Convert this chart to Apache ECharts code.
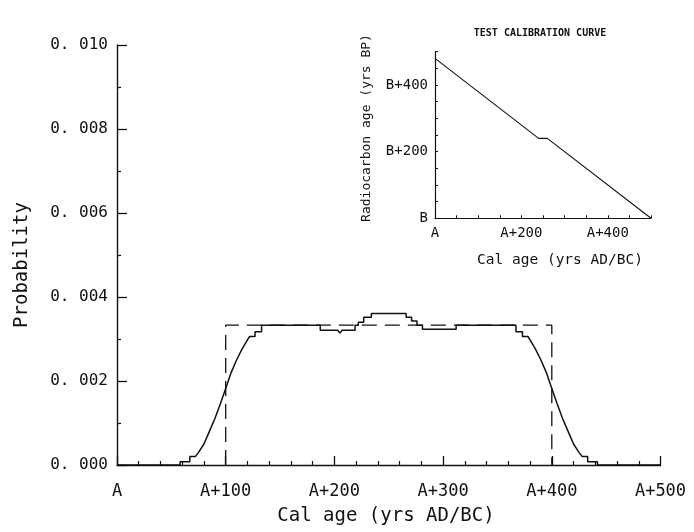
<!DOCTYPE html>
<html>
<head>
<meta charset="utf-8">
<script src="https://cdn.jsdelivr.net/npm/echarts@6/dist/echarts.min.js"></script>
<style>html,body{margin:0;padding:0;background:#fff;}#c{width:694px;height:532px;}</style>
</head>
<body>
<div id="c"></div>
<script>
// ---- Data ----
// Main panel: calibrated probability distribution, x = years after A (vertices of the drawn curve)
const probYears = [0, 58, 58, 67, 67, 72, 75, 80, 85, 90, 95, 100, 105, 110, 115, 120, 122, 127, 127, 133, 133,
  187, 187, 203, 205, 207, 219, 219, 222, 222, 227, 227, 234, 234,
  266, 266, 271, 271, 276, 276, 281, 281, 312, 312,
  367, 367, 373, 373, 378, 380, 385, 390, 395, 400, 405, 410, 415, 420, 425, 428, 433, 433, 442, 442, 500];
const probValues = [0, 0, 0.00008, 0.00008, 0.0002, 0.0002, 0.0003, 0.0005, 0.0008, 0.0011, 0.00145, 0.00182, 0.0022, 0.0025, 0.00276, 0.00298, 0.00306, 0.00306, 0.00317, 0.00317, 0.00333,
  0.00333, 0.00321, 0.00321, 0.00314, 0.00321, 0.00321, 0.00333, 0.00333, 0.0034, 0.0034, 0.00352, 0.00352, 0.00361,
  0.00361, 0.00352, 0.00352, 0.00343, 0.00343, 0.00333, 0.00333, 0.00323, 0.00323, 0.00333,
  0.00333, 0.00317, 0.00317, 0.00306, 0.00306, 0.00298, 0.00276, 0.0025, 0.0022, 0.00182, 0.00145, 0.0011, 0.0008, 0.0005, 0.0003, 0.0002, 0.0002, 0.00008, 0.00008, 0, 0];
// Uniform (dashed) input distribution
const uniformYears = [100, 100, 400, 400];
const uniformValues = [0, 0.00333, 0.00333, 0];
// Inset: test calibration curve
const calYears = [0, 240, 260, 500];
const rcAges = [480, 240, 240, 0];

// Tick labels
const mainXTickLabels = ['A', 'A+100', 'A+200', 'A+300', 'A+400', 'A+500'];
const mainYTickLabels = ['0. 000', '0. 002', '0. 004', '0. 006', '0. 008', '0. 010'];
const insetXTickLabels = {0: 'A', 200: 'A+200', 400: 'A+400'};
const insetYTickLabels = {0: 'B', 200: 'B+200', 400: 'B+400'};

const zip = (a, b) => a.map((v, i) => [v, b[i]]);
const FONT = 'DejaVu Sans Mono';
const BLACK = '#111';

const chart = echarts.init(document.getElementById('c'), null, {renderer: 'canvas'});
chart.setOption({
  animation: false,
  backgroundColor: '#fff',
  grid: [
    {left: 117, top: 45, width: 543.5, height: 420},
    {left: 435, top: 51.7, width: 216, height: 166.6}
  ],
  xAxis: [
    {
      type: 'value', gridIndex: 0, min: 0, max: 500, interval: 100,
      axisLine: {lineStyle: {color: BLACK, width: 1.4}},
      axisTick: {inside: true, length: 9, lineStyle: {color: BLACK, width: 1.3}},
      minorTick: {show: true, splitNumber: 5, length: 4, lineStyle: {color: BLACK, width: 1.2}},
      splitLine: {show: false},
      axisLabel: {margin: 18, color: BLACK, fontFamily: FONT, fontSize: 17,
        formatter: v => mainXTickLabels[Math.round(v / 100)]}
    },
    {
      type: 'value', gridIndex: 1, min: 0, max: 500, interval: 50,
      axisLine: {lineStyle: {color: BLACK, width: 1.2}},
      axisTick: {inside: true, length: 3, lineStyle: {color: BLACK, width: 1}},
      splitLine: {show: false},
      axisLabel: {margin: 8, color: BLACK, fontFamily: FONT, fontSize: 14, showMinLabel: true,
        formatter: v => insetXTickLabels[v] || ''}
    }
  ],
  yAxis: [
    {
      type: 'value', gridIndex: 0, min: 0, max: 0.010, interval: 0.002,
      axisLine: {show: true, lineStyle: {color: BLACK, width: 1.4}},
      axisTick: {show: true, inside: true, length: 10, lineStyle: {color: BLACK, width: 1.3}},
      minorTick: {show: true, splitNumber: 2, length: 4, lineStyle: {color: BLACK, width: 1.2}},
      splitLine: {show: false},
      axisLabel: {margin: 9, color: BLACK, fontFamily: FONT, fontSize: 16,
        formatter: v => mainYTickLabels[Math.round(v / 0.002)]}
    },
    {
      type: 'value', gridIndex: 1, min: 0, max: 500, interval: 50,
      axisLine: {show: true, lineStyle: {color: BLACK, width: 1.2}},
      axisTick: {show: true, inside: true, length: 3, lineStyle: {color: BLACK, width: 1}},
      splitLine: {show: false},
      axisLabel: {margin: 7, color: BLACK, fontFamily: FONT, fontSize: 14,
        formatter: v => insetYTickLabels[v] || ''}
    }
  ],
  series: [
    {
      type: 'line', xAxisIndex: 0, yAxisIndex: 0, symbol: 'none',
      data: zip(probYears, probValues),
      lineStyle: {color: BLACK, width: 1.5}, z: 3
    },
    {
      type: 'line', xAxisIndex: 0, yAxisIndex: 0, symbol: 'none',
      data: zip(uniformYears, uniformValues),
      lineStyle: {color: BLACK, width: 1.3, type: [15, 8]}, z: 2
    },
    {
      type: 'line', xAxisIndex: 1, yAxisIndex: 1, symbol: 'none',
      data: zip(calYears, rcAges),
      lineStyle: {color: BLACK, width: 1.1}
    }
  ],
  graphic: [
    {type: 'text', x: 22, y: 265, rotation: Math.PI / 2,
      style: {text: 'Probability', font: '19px "DejaVu Sans Mono"', fill: BLACK, align: 'center', verticalAlign: 'middle'}},
    {type: 'text', x: 386, y: 516,
      style: {text: 'Cal age (yrs AD/BC)', font: '19px "DejaVu Sans Mono"', fill: BLACK, align: 'center', verticalAlign: 'middle'}},
    {type: 'text', x: 540, y: 33,
      style: {text: 'TEST CALIBRATION CURVE', font: 'bold 10px "DejaVu Sans Mono"', fill: BLACK, align: 'center', verticalAlign: 'middle'}},
    {type: 'text', x: 560, y: 260,
      style: {text: 'Cal age (yrs AD/BC)', font: '14.5px "DejaVu Sans Mono"', fill: BLACK, align: 'center', verticalAlign: 'middle'}},
    {type: 'text', x: 367, y: 128, rotation: Math.PI / 2,
      style: {text: 'Radiocarbon age (yrs BP)', font: '13px "DejaVu Sans Mono"', fill: BLACK, align: 'center', verticalAlign: 'middle'}}
  ]
});
</script>
</body>
</html>
